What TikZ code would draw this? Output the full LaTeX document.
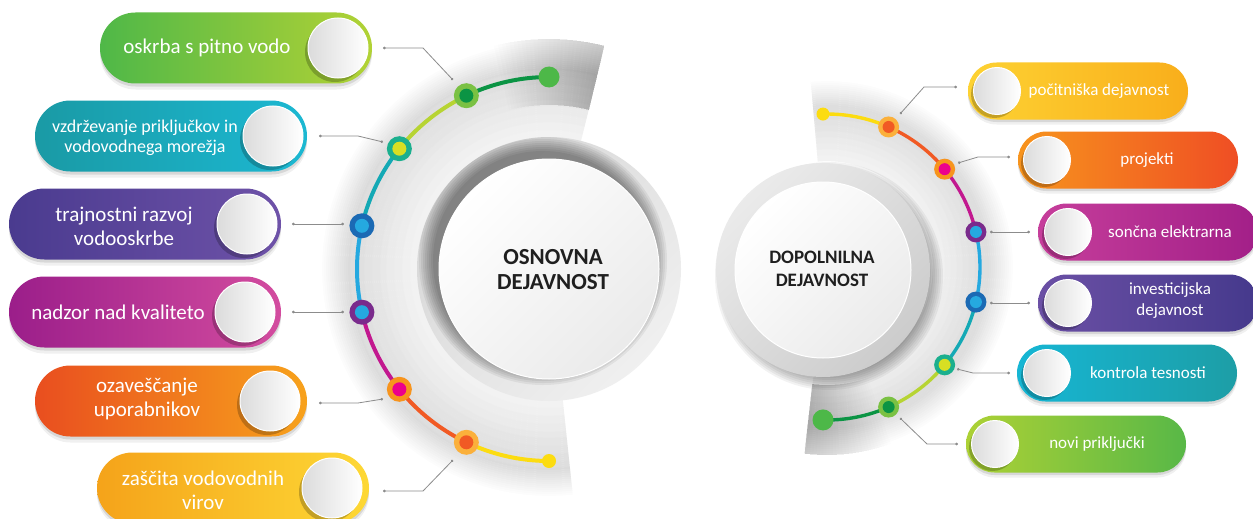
\documentclass[tikz,border=0pt]{standalone}
\usepackage{fontspec}
\setmainfont{Carlito}
\usetikzlibrary{shapes.misc,calc,arrows.meta}
% arc colours
\definecolor{cDG}{HTML}{0B9444}
\definecolor{cLG}{HTML}{7AC143}
\definecolor{cMG}{HTML}{4DB848}
\definecolor{cLime}{HTML}{B7D433}
\definecolor{cTG}{HTML}{1BAF8E}
\definecolor{cYG}{HTML}{D7DF23}
\definecolor{cTeal}{HTML}{14A9B5}
\definecolor{cDB}{HTML}{1B6AB4}
\definecolor{cLB}{HTML}{25A9E0}
\definecolor{cPur}{HTML}{7A2B8C}
\definecolor{cMag}{HTML}{C2188F}
\definecolor{cOrg}{HTML}{F7941D}
\definecolor{cPink}{HTML}{EC008C}
\definecolor{cRO}{HTML}{F15A24}
\definecolor{cYO}{HTML}{FBB03B}
\definecolor{cYel}{HTML}{FCDC10}
% pill colours
\definecolor{p1a}{HTML}{4FB848}\definecolor{p1b}{HTML}{B2D235}
\definecolor{p2a}{HTML}{1A9AA5}\definecolor{p2b}{HTML}{1CB8D2}
\definecolor{p3a}{HTML}{4A3B8F}\definecolor{p3b}{HTML}{6E52A8}
\definecolor{p4a}{HTML}{9B1E8A}\definecolor{p4b}{HTML}{D34C9F}
\definecolor{p5a}{HTML}{E94E1F}\definecolor{p5b}{HTML}{F7A21C}
\definecolor{p6a}{HTML}{F5A31A}\definecolor{p6b}{HTML}{FDD835}
\definecolor{r1a}{HTML}{FDD233}\definecolor{r1b}{HTML}{F9AE1B}
\definecolor{r2a}{HTML}{F7941D}\definecolor{r2b}{HTML}{EF4E24}
\definecolor{r3a}{HTML}{C63E9B}\definecolor{r3b}{HTML}{A21F88}
\definecolor{r4a}{HTML}{6B50A5}\definecolor{r4b}{HTML}{45398C}
\definecolor{r5a}{HTML}{16B6D4}\definecolor{r5b}{HTML}{1D9EA6}
\definecolor{r6a}{HTML}{ADD135}\definecolor{r6b}{HTML}{58B847}
\begin{document}
\begin{tikzpicture}[x=1pt,y=-1pt,
  pillL/.style={rounded rectangle, minimum width=272pt, minimum height=71pt, inner sep=0pt,
     preaction={fill=black, opacity=.06, transform canvas={shift={(0,6)}}},
     preaction={fill=black, opacity=.10, transform canvas={shift={(0,3)}}}},
  pillR/.style={rounded rectangle, minimum width=220pt, minimum height=57pt, inner sep=0pt,
     preaction={fill=black, opacity=.06, transform canvas={shift={(0,5)}}},
     preaction={fill=black, opacity=.10, transform canvas={shift={(0,2.5)}}}},
  knobL/.style={circle, minimum size=60pt, inner sep=0pt, left color=black!14, right color=white,
     draw=white, line width=1pt,
     preaction={fill=black, opacity=.22, transform canvas={shift={(-3,4)}}}},
  knobR/.style={circle, minimum size=47pt, inner sep=0pt, left color=black!14, right color=white,
     draw=white, line width=1pt,
     preaction={fill=black, opacity=.22, transform canvas={shift={(-2.5,3.5)}}}},
  ptxt/.style={text=white, font=\fontsize{21}{24}\selectfont, align=center, inner sep=0pt},
  rtxt/.style={text=white, font=\fontsize{17}{21}\selectfont, align=center, inner sep=0pt},
  ctxt/.style={text=black!88, align=center, inner sep=0pt},
  seg/.style={line width=4pt},
  segR/.style={line width=3.4pt},
  dotL/.style={circle, minimum size=25pt, inner sep=0pt},
  dotLi/.style={circle, minimum size=14pt, inner sep=0pt},
  dotR/.style={circle, minimum size=21pt, inner sep=0pt},
  dotRi/.style={circle, minimum size=12pt, inner sep=0pt},
  conn/.style={draw=black!45, line width=0.8pt, {Circle[length=2.6pt]}-{Circle[length=2.6pt]}},
]
\useasboundingbox[fill=white] (0,0) rectangle (1253,519);
\coordinate (LC) at (549,269);
\coordinate (RR) at (823,270);
\coordinate (RA) at (827,267);

% ---------- grey bands behind arcs ----------
\foreach \r in {132,134,...,230}{
  \pgfmathtruncatemacro\g{\r<200 ? 5+9*(\r-132)/68 : 14*(230-\r)/30}
  \draw[line width=2.3pt, black!\g] (LC) ++(-76:\r) arc[start angle=-76, end angle=-276, radius=\r];
}
\foreach \a in {-77,-78,...,-104}{
  \draw[line width=66pt, black, opacity=.007] (LC) ++(-76:197) arc[start angle=-76, end angle=\a, radius=197];
}
\foreach \r in {107,109,...,189}{
  \pgfmathtruncatemacro\g{\r<160 ? 5+9*(\r-107)/53 : 14*(189-\r)/29}
  \draw[line width=2.3pt, black!\g] (RA) ++(-95:\r) arc[start angle=-95, end angle=97, radius=\r];
}
\foreach \a in {96,95,...,70}{
  \draw[line width=70pt, black, opacity=.007] (RA) ++(97:153) arc[start angle=97, end angle=\a, radius=153];
}

% ---------- left centre disc ----------
\shade[top color=black!16, bottom color=black!6, shading angle=45] (LC) circle (132);
\begin{scope}
\clip (LC) circle (132);
\foreach \k in {0,...,7}{\fill[black, opacity=.06] ($(LC)+(-6,-8)$) circle (110+2*\k);}
\end{scope}
\shade[top color=white, bottom color=black!8, shading angle=45, draw=white, line width=1pt] (LC) circle (110);
\node[ctxt, font=\bfseries\fontsize{23}{25}\selectfont] (CL) at (553,270) {OSNOVNA\\DEJAVNOST};

% ---------- right centre disc ----------
\foreach \k in {0,...,7}{\fill[black, opacity=.05] ($(RR)+(6,6)$) circle (100+2*\k);}
\shade[top color=black!8, bottom color=black!20, shading angle=45] (RR) circle (107);
\shade[top color=white, bottom color=black!8, shading angle=45, draw=white, line width=1pt] (RR) circle (88);
\node[ctxt, font=\bfseries\fontsize{19}{23}\selectfont] (CR) at (822,269) {DOPOLNILNA\\DEJAVNOST};

% ---------- left arc ----------
\draw[seg, cDG]   (LC) ++(-90:192)    arc[start angle=-90,    end angle=-115.5, radius=192];
\draw[seg, cLime] (LC) ++(-115.5:192) arc[start angle=-115.5, end angle=-141.2, radius=192];
\draw[seg, cTeal] (LC) ++(-141.2:192) arc[start angle=-141.2, end angle=-167,   radius=192];
\draw[seg, cLB]   (LC) ++(-167:192)   arc[start angle=-167,   end angle=-193,   radius=192];
\draw[seg, cMag]  (LC) ++(-193:192)   arc[start angle=-193,   end angle=-218.8, radius=192];
\draw[seg, cRO]   (LC) ++(-218.8:192) arc[start angle=-218.8, end angle=-244.5, radius=192];
\draw[seg, cYel]  (LC) ++(-244.5:192) arc[start angle=-244.5, end angle=-270,   radius=192];
\node[circle, minimum size=21pt, inner sep=0pt, fill=cMG] (E0) at ($(LC)+(-90:192)$) {};
\node[circle, minimum size=14pt, inner sep=0pt, fill=cYel] (E7) at ($(LC)+(-270:192)$) {};
\node[dotL, fill=cLG]  (N1) at ($(LC)+(-115.5:192)$) {}; \node[dotLi, fill=cDG]  (N1i) at (N1) {};
\node[dotL, fill=cTG]  (N2) at ($(LC)+(-141.2:192)$) {}; \node[dotLi, fill=cYG]  (N2i) at (N2) {};
\node[dotL, fill=cDB]  (N3) at ($(LC)+(-167:192)$)   {}; \node[dotLi, fill=cLB]  (N3i) at (N3) {};
\node[dotL, fill=cPur] (N4) at ($(LC)+(-193:192)$)   {}; \node[dotLi, fill=cLB]  (N4i) at (N4) {};
\node[dotL, fill=cOrg] (N5) at ($(LC)+(-218.8:192)$) {}; \node[dotLi, fill=cPink] (N5i) at (N5) {};
\node[dotL, fill=cYO]  (N6) at ($(LC)+(-244.5:192)$) {}; \node[dotLi, fill=cRO]  (N6i) at (N6) {};

% ---------- right arc ----------
\draw[segR, cYel]  (RA) ++(-91.5:153)  arc[start angle=-91.5,  end angle=-66.25, radius=153];
\draw[segR, cRO]   (RA) ++(-66.25:153) arc[start angle=-66.25, end angle=-39.75, radius=153];
\draw[segR, cMag]  (RA) ++(-39.75:153) arc[start angle=-39.75, end angle=-13.25, radius=153];
\draw[segR, cLB]   (RA) ++(-13.25:153) arc[start angle=-13.25, end angle=13.25,  radius=153];
\draw[segR, cTeal] (RA) ++(13.25:153)  arc[start angle=13.25,  end angle=39.75,  radius=153];
\draw[segR, cLime] (RA) ++(39.75:153)  arc[start angle=39.75,  end angle=66.25,  radius=153];
\draw[segR, cDG]   (RA) ++(66.25:153)  arc[start angle=66.25,  end angle=91.5,   radius=153];
\node[circle, minimum size=13pt, inner sep=0pt, fill=cYel] (F0) at ($(RA)+(-91.5:153)$) {};
\node[circle, minimum size=21pt, inner sep=0pt, fill=cMG] (F7) at ($(RA)+(91.5:153)$) {};
\node[dotR, fill=cYO]  (M1) at ($(RA)+(-66.25:153)$) {}; \node[dotRi, fill=cRO]  (M1i) at (M1) {};
\node[dotR, fill=cOrg] (M2) at ($(RA)+(-39.75:153)$) {}; \node[dotRi, fill=cPink] (M2i) at (M2) {};
\node[dotR, fill=cPur] (M3) at ($(RA)+(-13.25:153)$) {}; \node[dotRi, fill=cLB]  (M3i) at (M3) {};
\node[dotR, fill=cDB]  (M4) at ($(RA)+(13.25:153)$)  {}; \node[dotRi, fill=cLB]  (M4i) at (M4) {};
\node[dotR, fill=cTG]  (M5) at ($(RA)+(39.75:153)$)  {}; \node[dotRi, fill=cYG]  (M5i) at (M5) {};
\node[dotR, fill=cLG]  (M6) at ($(RA)+(66.25:153)$)  {}; \node[dotRi, fill=cDG]  (M6i) at (M6) {};

% ---------- connectors ----------
\coordinate (a1) at (383,48);  \coordinate (b1) at (423,48);  \coordinate (c1) at (453,80);
\coordinate (a2) at (319,136); \coordinate (b2) at (358,136); \coordinate (c2) at (383,142);
\coordinate (a3) at (292,224); \coordinate (c3) at (344,224);
\coordinate (a4) at (292,312); \coordinate (c4) at (344,312);
\coordinate (a5) at (319,403); \coordinate (b5) at (358,403); \coordinate (c5) at (383,399);
\coordinate (a6) at (383,491); \coordinate (b6) at (423,491); \coordinate (c6) at (453,460);
\draw[conn] (a1) -- (b1) -- (c1);
\draw[conn] (a2) -- (b2) -- (c2);
\draw[conn] (a3) -- (c3);
\draw[conn] (a4) -- (c4);
\draw[conn] (a5) -- (b5) -- (c5);
\draw[conn] (a6) -- (b6) -- (c6);
\coordinate (d1) at (957,87);   \coordinate (e1) at (924,87);   \coordinate (f1) at (900,114);
\coordinate (d2) at (1010,157); \coordinate (e2) at (978,157);  \coordinate (f2) at (958,163);
\coordinate (d3) at (1030,232); \coordinate (f3) at (990,232);
\coordinate (d4) at (1030,303); \coordinate (f4) at (990,303);
\coordinate (d5) at (1010,373); \coordinate (e5) at (973,373);  \coordinate (f5) at (957,369);
\coordinate (d6) at (958,444);  \coordinate (e6) at (927,444);  \coordinate (f6) at (900,418);
\draw[conn] (d1) -- (e1) -- (f1);
\draw[conn] (d2) -- (e2) -- (f2);
\draw[conn] (d3) -- (f3);
\draw[conn] (d4) -- (f4);
\draw[conn] (d5) -- (e5) -- (f5);
\draw[conn] (d6) -- (e6) -- (f6);

% ---------- left pills ----------
\node[pillL, left color=p1a, right color=p1b] (P1) at (236,48)  {};
\node[pillL, left color=p2a, right color=p2b] (P2) at (171,136) {};
\node[pillL, left color=p3a, right color=p3b] (P3) at (145,224) {};
\node[pillL, left color=p4a, right color=p4b] (P4) at (145,312) {};
\node[pillL, left color=p5a, right color=p5b] (P5) at (171,401) {};
\node[pillL, left color=p6a, right color=p6b] (P6) at (233,488) {};
\node[knobL] (K1) at (338,48)  {};
\node[knobL] (K2) at (273,136) {};
\node[knobL] (K3) at (247,224) {};
\node[knobL] (K4) at (245,312) {};
\node[knobL] (K5) at (270,401) {};
\node[knobL] (K6) at (332,488) {};
\node[ptxt] (T1) at (207,48) {oskrba s pitno vodo};
\node[ptxt, font=\fontsize{18}{20}\selectfont] (T2) at (145,138) {vzdrževanje priključkov in\\vodovodnega morežja};
\node[ptxt] (T3) at (124,226) {trajnostni razvoj\\vodooskrbe};
\node[ptxt] (T4) at (118,312) {nadzor nad kvaliteto};
\node[ptxt] (T5) at (147,399) {ozaveščanje\\uporabnikov};
\node[ptxt] (T6) at (203,490) {zaščita vodovodnih\\virov};

% ---------- right pills ----------
\node[pillR, left color=r1a, right color=r1b] (R1) at (1078,91)  {};
\node[pillR, left color=r2a, right color=r2b] (R2) at (1128,160) {};
\node[pillR, left color=r3a, right color=r3b] (R3) at (1148,232) {};
\node[pillR, left color=r4a, right color=r4b] (R4) at (1148,303) {};
\node[pillR, left color=r5a, right color=r5b] (R5) at (1127,373) {};
\node[pillR, left color=r6a, right color=r6b] (R6) at (1076,444) {};
\node[knobR] (Q1) at (997,91)   {};
\node[knobR] (Q2) at (1047,160) {};
\node[knobR] (Q3) at (1068,232) {};
\node[knobR] (Q4) at (1068,303) {};
\node[knobR] (Q5) at (1047,373) {};
\node[knobR] (Q6) at (995,444)  {};
\node[rtxt] (U1) at (1099,91)  {počitniška dejavnost};
\node[rtxt] (U2) at (1147,160) {projekti};
\node[rtxt] (U3) at (1170,232) {sončna elektrarna};
\node[rtxt] (U4) at (1170,301) {investicijska\\dejavnost};
\node[rtxt] (U5) at (1148,373) {kontrola tesnosti};
\node[rtxt] (U6) at (1097,444) {novi priključki};
\end{tikzpicture}
\end{document}
